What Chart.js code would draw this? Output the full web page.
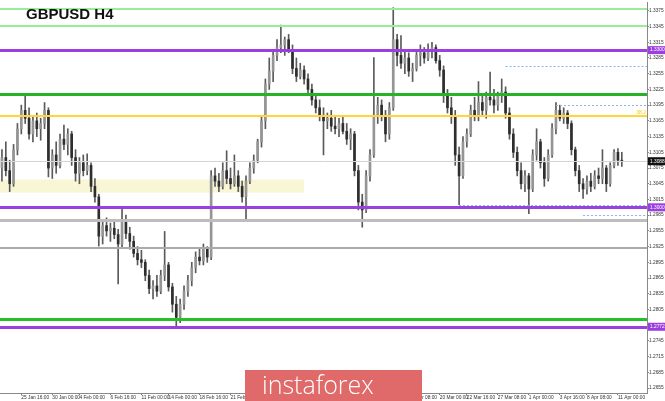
<!DOCTYPE html>
<html lang="en">
<head>
<meta charset="UTF-8">
<title>GBPUSD H4</title>
<script src="https://cdn.jsdelivr.net/npm/chart.js"></script>
<style>
  html, body { margin: 0; padding: 0; background: #fff; }
  #wrap { position: relative; width: 665px; height: 401px; overflow: hidden; }
  #title { position: absolute; left: 26px; top: 5px; font: bold 15px "Liberation Sans", Arial, sans-serif; color: #111; }
  #logo { position: absolute; left: 245px; top: 370px; width: 177px; height: 31px; background: #e06a6a; }
  #logo span { position: absolute; left: 17px; top: -3px; color: #fff; font: 300 25px "Open Sans", sans-serif; }
</style>
</head>
<body>
<div id="wrap">
  <canvas id="chart" width="665" height="401"></canvas>
  <div id="title">GBPUSD H4</div>
  <div id="logo"><span>instaforex</span></div>
</div>
<script>
// H4 candles (one candle per two H4 bars)
var opens = [
  1.3075,1.3095,1.3070,1.3045,1.3110,1.3150,1.3185,1.3170,1.3140,1.3165,
  1.3150,1.3160,1.3185,1.3075,1.3100,1.3080,1.3130,1.3120,1.3140,1.3095,
  1.3065,1.3085,1.3070,1.3080,1.3040,1.3020,1.2945,1.2965,1.2955,1.2960,
  1.2948,1.2930,1.2975,1.2950,1.2935,1.2912,1.2900,1.2895,1.2870,1.2845,
  1.2850,1.2840,1.2870,1.2890,1.2848,1.2815,1.2790,1.2815,1.2840,1.2860,
  1.2885,1.2905,1.2898,1.2920,1.2905,1.3060,1.3050,1.3040,1.3070,1.3055,
  1.3045,1.3060,1.3040,1.3020,1.3050,1.3075,1.3090,1.3125,1.3165,1.3235,
  1.3260,1.3290,1.3305,1.3310,1.3320,1.3300,1.3265,1.3250,1.3262,1.3245,
  1.3225,1.3205,1.3190,1.3175,1.3165,1.3170,1.3155,1.3150,1.3160,1.3145,
  1.3130,1.3140,1.3070,1.3010,1.2995,1.3060,1.3100,1.3175,1.3195,1.3175,
  1.3140,1.3190,1.3320,1.3290,1.3275,1.3285,1.3260,1.3265,1.3290,1.3295,
  1.3285,1.3300,1.3305,1.3280,1.3262,1.3215,1.3190,1.3175,1.3100,1.3060,
  1.3125,1.3140,1.3185,1.3175,1.3200,1.3185,1.3210,1.3205,1.3195,1.3215,
  1.3220,1.3180,1.3140,1.3105,1.3070,1.3045,1.3060,1.3035,1.3100,1.3125,
  1.3085,1.3055,1.3100,1.3150,1.3185,1.3170,1.3180,1.3160,1.3110,1.3070,
  1.3045,1.3035,1.3050,1.3040,1.3060,1.3055,1.3075,1.3045,1.3080,1.3105,1.3090
];
var highs = [
  1.3110,1.3125,1.3090,1.3120,1.3160,1.3195,1.3212,1.3190,1.3175,1.3180,
  1.3170,1.3200,1.3190,1.3110,1.3125,1.3140,1.3157,1.3150,1.3145,1.3110,
  1.3095,1.3100,1.3102,1.3085,1.3055,1.3025,1.2975,1.2980,1.2970,1.2975,
  1.2958,1.2997,1.2985,1.2962,1.2945,1.2925,1.2918,1.2900,1.2880,1.2860,
  1.2870,1.2880,1.2954,1.2895,1.2855,1.2830,1.2825,1.2850,1.2870,1.2895,
  1.2915,1.2920,1.2930,1.2925,1.3070,1.3075,1.3065,1.3085,1.3108,1.3075,
  1.3100,1.3070,1.3050,1.3060,1.3085,1.3100,1.3130,1.3175,1.3245,1.3285,
  1.3300,1.3320,1.3348,1.3325,1.3330,1.3310,1.3285,1.3275,1.3270,1.3255,
  1.3235,1.3215,1.3205,1.3190,1.3180,1.3185,1.3175,1.3170,1.3175,1.3160,
  1.3150,1.3145,1.3080,1.3025,1.3070,1.3110,1.3286,1.3210,1.3205,1.3185,
  1.3200,1.3381,1.3330,1.3328,1.3300,1.3295,1.3275,1.3300,1.3310,1.3305,
  1.3312,1.3315,1.3310,1.3290,1.3270,1.3225,1.3210,1.3185,1.3115,1.3135,
  1.3150,1.3195,1.3210,1.3240,1.3215,1.3220,1.3258,1.3225,1.3220,1.3245,
  1.3230,1.3190,1.3150,1.3115,1.3085,1.3070,1.3065,1.3110,1.3150,1.3130,
  1.3095,1.3110,1.3160,1.3200,1.3195,1.3190,1.3185,1.3165,1.3115,1.3080,
  1.3055,1.3060,1.3065,1.3070,1.3075,1.3110,1.3080,1.3085,1.3110,1.3112,1.3105
];
var lows = [
  1.3050,1.3060,1.3030,1.3040,1.3100,1.3140,1.3160,1.3130,1.3125,1.3135,
  1.3128,1.3150,1.3058,1.3055,1.3065,1.3075,1.3110,1.3100,1.3080,1.3050,
  1.3045,1.3060,1.3062,1.3030,1.3010,1.2926,1.2930,1.2945,1.2935,1.2940,
  1.2854,1.2925,1.2940,1.2920,1.2905,1.2890,1.2885,1.2860,1.2835,1.2825,
  1.2830,1.2835,1.2860,1.2840,1.2800,1.2774,1.2780,1.2805,1.2830,1.2850,
  1.2875,1.2890,1.2890,1.2895,1.2900,1.3040,1.3030,1.3035,1.3045,1.3035,
  1.3040,1.3030,1.3010,1.2975,1.3045,1.3065,1.3085,1.3115,1.3150,1.3225,
  1.3240,1.3280,1.3295,1.3290,1.3295,1.3255,1.3240,1.3245,1.3235,1.3215,
  1.3195,1.3180,1.3165,1.3100,1.3150,1.3145,1.3140,1.3135,1.3140,1.3120,
  1.3110,1.3060,1.2995,1.2962,1.2990,1.3050,1.3095,1.3160,1.3165,1.3125,
  1.3130,1.3185,1.3270,1.3265,1.3255,1.3250,1.3240,1.3260,1.3270,1.3275,
  1.3280,1.3285,1.3275,1.3250,1.3200,1.3180,1.3160,1.3080,1.3005,1.3055,
  1.3115,1.3135,1.3165,1.3165,1.3175,1.3170,1.3195,1.3180,1.3185,1.3200,
  1.3170,1.3130,1.3095,1.3060,1.3035,1.3030,1.2988,1.3030,1.3090,1.3075,
  1.3040,1.3050,1.3095,1.3140,1.3165,1.3160,1.3150,1.3100,1.3060,1.3030,
  1.3017,1.3025,1.3030,1.3035,1.3045,1.3045,1.3030,1.3040,1.3075,1.3080,1.3078
];
var closes = [
  1.3095,1.3070,1.3045,1.3110,1.3150,1.3185,1.3170,1.3140,1.3165,1.3150,
  1.3160,1.3185,1.3075,1.3100,1.3080,1.3130,1.3120,1.3140,1.3095,1.3065,
  1.3085,1.3070,1.3080,1.3040,1.3020,1.2945,1.2965,1.2955,1.2960,1.2948,
  1.2930,1.2975,1.2950,1.2935,1.2912,1.2900,1.2895,1.2870,1.2845,1.2850,
  1.2840,1.2870,1.2890,1.2848,1.2815,1.2790,1.2815,1.2840,1.2860,1.2885,
  1.2905,1.2898,1.2920,1.2905,1.3060,1.3050,1.3040,1.3070,1.3055,1.3045,
  1.3060,1.3040,1.3020,1.3050,1.3075,1.3090,1.3125,1.3165,1.3235,1.3260,
  1.3290,1.3305,1.3310,1.3320,1.3300,1.3265,1.3250,1.3262,1.3245,1.3225,
  1.3205,1.3190,1.3175,1.3165,1.3170,1.3155,1.3150,1.3160,1.3145,1.3130,
  1.3140,1.3070,1.3010,1.2995,1.3060,1.3100,1.3175,1.3195,1.3175,1.3140,
  1.3190,1.3320,1.3290,1.3275,1.3285,1.3260,1.3265,1.3290,1.3295,1.3285,
  1.3300,1.3305,1.3280,1.3262,1.3215,1.3190,1.3175,1.3100,1.3060,1.3125,
  1.3140,1.3185,1.3175,1.3200,1.3185,1.3210,1.3205,1.3195,1.3215,1.3220,
  1.3180,1.3140,1.3105,1.3070,1.3045,1.3060,1.3035,1.3100,1.3125,1.3085,
  1.3055,1.3100,1.3150,1.3185,1.3170,1.3180,1.3160,1.3110,1.3070,1.3045,
  1.3035,1.3050,1.3040,1.3060,1.3055,1.3075,1.3045,1.3080,1.3105,1.3090,1.3088
];

// empty slots after the last candle (right margin of the terminal)
var slotCount = 167;

// time axis labels and the slot each one sits at
var timeTickSlots = [5, 13, 20, 28, 36, 43, 51, 59, 67, 75, 82, 90, 98, 105, 113, 120, 128, 136, 144, 151, 159];
var timeTickText = ['25 Jan 16:00', '30 Jan 00:00', '4 Feb 00:00', '6 Feb 16:00', '11 Feb 00:00', '14 Feb 00:00',
  '18 Feb 16:00', '21 Feb 08:00', '26 Feb 00:00', '28 Feb 16:00', '5 Mar 08:00', '8 Mar 00:00', '12 Mar 16:00',
  '15 Mar 08:00', '20 Mar 00:00', '22 Mar 16:00', '27 Mar 08:00', '1 Apr 00:00', '3 Apr 16:00', '8 Apr 08:00', '11 Apr 00:00'];

// price axis
var priceTicks = [1.3375, 1.3345, 1.3315, 1.3285, 1.3255, 1.3225, 1.3195, 1.3165, 1.3135, 1.3105, 1.3075,
  1.3045, 1.3015, 1.2985, 1.2955, 1.2925, 1.2895, 1.2865, 1.2835, 1.2805, 1.2775, 1.2745, 1.2715, 1.2685, 1.2655];
var priceMin = 1.26456, priceMax = 1.33902;

// horizontal levels
var levelPrices = [1.3379, 1.3347, 1.3300, 1.3216, 1.3174, 1.3088, 1.3000, 1.2975, 1.2922, 1.2786, 1.2772];
// dotted fibo lines: price and slot where they start
var fiboPrices = [1.3269, 1.3195, 1.3004, 1.2986];
var fiboStart = [130, 143, 118, 150];
var fiboText = '38.2', fiboTextPrice = 1.3174;
// pale zone
var zonePrices = [1.3053, 1.3028];
var zoneSlots = [0, 78];
// highlighted price labels
var markPrices = [1.3300, 1.3088, 1.3000, 1.2772];

var levelStyles = [
  ['#98ee98', 2], ['#98ee98', 2], ['#9b3fe0', 3], ['#26b426', 3], ['#ffd633', 2], ['#d4d4d4', 1],
  ['#9b3fe0', 3], ['#bdbdbd', 3], ['#aaaaaa', 2], ['#26c026', 3], ['#9b3fe0', 3]
];
var markColors = ['#9b3fe0', '#111111', '#9b3fe0', '#9b3fe0'];

var slotLabels = [];
for (var i = 0; i < slotCount; i++) slotLabels.push('');
timeTickSlots.forEach(function (s, k) { slotLabels[s] = timeTickText[k]; });

var levelsPlugin = {
  id: 'levels',
  beforeDatasetsDraw: function (chart) {
    var ctx = chart.ctx, a = chart.chartArea, x = chart.scales.x, y = chart.scales.y;
    ctx.save();
    ctx.fillStyle = '#f9f6d5';
    var x0 = a.left, x1 = x.getPixelForValue(zoneSlots[1]);
    var y0 = y.getPixelForValue(zonePrices[0]), y1 = y.getPixelForValue(zonePrices[1]);
    ctx.fillRect(x0, y0, x1 - x0, y1 - y0);
    ctx.restore();
  },
  afterDatasetsDraw: function (chart) {
    var ctx = chart.ctx, a = chart.chartArea, x = chart.scales.x, y = chart.scales.y;
    ctx.save();
    levelPrices.forEach(function (p, k) {
      var py = Math.round(y.getPixelForValue(p)) + (levelStyles[k][1] % 2 ? 0.5 : 0);
      ctx.strokeStyle = levelStyles[k][0];
      ctx.lineWidth = levelStyles[k][1];
      ctx.beginPath();
      ctx.moveTo(a.left, py);
      ctx.lineTo(a.right, py);
      ctx.stroke();
    });
    ctx.setLineDash([2, 2]);
    ctx.strokeStyle = '#86b6ee';
    ctx.lineWidth = 1;
    fiboPrices.forEach(function (p, k) {
      var py = Math.round(y.getPixelForValue(p)) + 0.5;
      ctx.beginPath();
      ctx.moveTo(x.getPixelForValue(fiboStart[k]), py);
      ctx.lineTo(a.right, py);
      ctx.stroke();
    });
    ctx.setLineDash([]);
    ctx.fillStyle = '#f2cf10';
    ctx.font = '5px "Liberation Sans", Arial';
    ctx.textAlign = 'right';
    ctx.textBaseline = 'bottom';
    ctx.fillText(fiboText, a.right - 1, y.getPixelForValue(fiboTextPrice) - 1);
    ctx.restore();
  },
  afterDraw: function (chart) {
    var ctx = chart.ctx, a = chart.chartArea, y = chart.scales.y;
    ctx.save();
    ctx.font = '4.8px "Liberation Sans", Arial';
    ctx.textAlign = 'left';
    ctx.textBaseline = 'middle';
    markPrices.forEach(function (p, k) {
      var py = y.getPixelForValue(p);
      ctx.fillStyle = markColors[k];
      ctx.fillRect(a.right + 1, py - 4, chart.width - a.right - 1, 8);
      ctx.fillStyle = '#ffffff';
      ctx.fillText(p.toFixed(4), a.right + 3, py);
    });
    ctx.restore();
  }
};

var ctx = document.getElementById('chart').getContext('2d');
var chart = new Chart(ctx, {
  type: 'bar',
  data: {
    labels: slotLabels,
    datasets: [
      {
        label: 'wick',
        data: highs.map(function (h, i) { return [lows[i], h]; }),
        backgroundColor: '#5a5a5a',
        barThickness: 1,
        grouped: false,
        order: 2
      },
      {
        label: 'body',
        data: opens.map(function (o, i) { return [o, closes[i]]; }),
        backgroundColor: function (c) {
          return closes[c.dataIndex] >= opens[c.dataIndex] ? '#959595' : '#2e2e2e';
        },
        barThickness: 2,
        minBarLength: 1,
        grouped: false,
        order: 1
      }
    ]
  },
  options: {
    responsive: false,
    animation: false,
    devicePixelRatio: 1,
    events: [],
    layout: { padding: 0 },
    plugins: { legend: { display: false }, tooltip: { enabled: false } },
    scales: {
      x: {
        offset: true,
        grid: {
          offset: false,
          drawOnChartArea: false,
          tickLength: 2,
          tickColor: function (c) { return slotLabels[c.index] ? '#777' : 'rgba(0,0,0,0)'; }
        },
        border: { color: '#888', width: 1 },
        ticks: {
          autoSkip: false,
          maxRotation: 0,
          minRotation: 0,
          align: 'start',
          padding: 0,
          color: '#333',
          font: { family: 'Liberation Sans', size: 4.8 },
          callback: function (v, i) { return slotLabels[i]; }
        },
        afterFit: function (s) { s.height = 8; }
      },
      y: {
        position: 'right',
        min: priceMin,
        max: priceMax,
        bounds: 'data',
        grid: { drawOnChartArea: false, tickLength: 2, tickColor: '#888' },
        border: { color: '#888', width: 1 },
        ticks: {
          padding: 0,
          color: '#333',
          font: { family: 'Liberation Sans', size: 4.8 },
          callback: function (v) { return v.toFixed(4); }
        },
        afterBuildTicks: function (s) {
          s.ticks = priceTicks.map(function (v) { return { value: v }; });
        },
        afterFit: function (s) { s.width = 18; }
      }
    }
  },
  plugins: [levelsPlugin]
});
</script>
</body>
</html>
